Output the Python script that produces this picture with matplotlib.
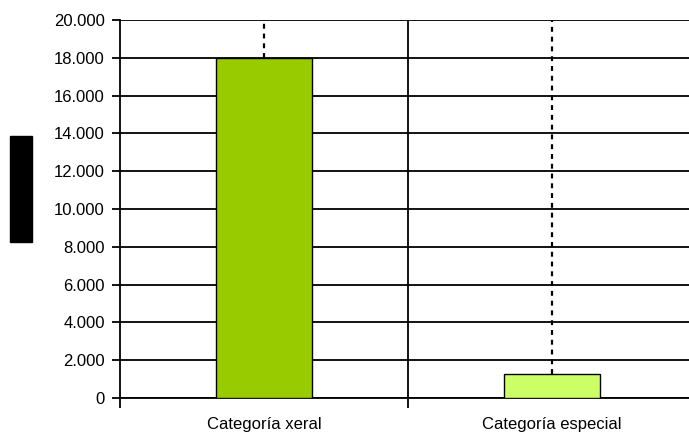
import matplotlib.pyplot as plt
from matplotlib.ticker import FuncFormatter

# data
categories = ["Categoría xeral", "Categoría especial"]
values = [18000, 1280]
colors = ["#99CC00", "#CCFF66"]
y_max = 20000
y_step = 2000

plt.rcParams['font.family'] = ['Liberation Sans', 'DejaVu Sans']

fig = plt.figure(figsize=(6.89, 4.36), dpi=100)
# right edge of the axes runs past the picture, as in the reference
ax = fig.add_axes([120 / 689, (436 - 398) / 436, 576 / 689, 378 / 436])

x = list(range(len(categories)))
ax.bar(x, values, width=0.335, color=colors, edgecolor="black", linewidth=1, zorder=3)

# dotted lines from bar tops up to the top of the plot
ax.vlines(x, values, y_max, colors="black", linestyles=(0, (2.2, 2.2)), linewidth=1.6, zorder=2)

ax.set_xlim(-0.5, len(categories) - 0.5)
ax.set_ylim(0, y_max)
ax.set_yticks(range(0, y_max + 1, y_step))
ax.yaxis.set_major_formatter(FuncFormatter(lambda v, p: f"{int(v):,}".replace(",", ".")))
ax.grid(axis="y", color="black", linewidth=1.3, zorder=1)
ax.set_axisbelow(True)

# separator between categories
ax.axvline(0.5, color="black", linewidth=1.3, zorder=1)

ax.set_xticks(x)
ax.set_xticklabels(categories, fontsize=12)
ax.set_xticks([-0.5, 0.5, 1.5], minor=True)
ax.tick_params(axis="x", which="major", length=0, pad=14)
ax.tick_params(axis="x", which="minor", length=7, width=1.3, direction="out")
ax.tick_params(axis="y", length=6, width=1.3, direction="out", labelsize=12, pad=5)

for side in ["top", "right"]:
    ax.spines[side].set_visible(False)
for side in ["left", "bottom"]:
    ax.spines[side].set_linewidth(1.3)

# black block at the left edge
fig.patches.append(plt.Rectangle((10 / 689, 1 - 242 / 436), 22 / 689, 106 / 436,
                                 transform=fig.transFigure, color="black"))

fig.savefig("out.png", dpi=100)
